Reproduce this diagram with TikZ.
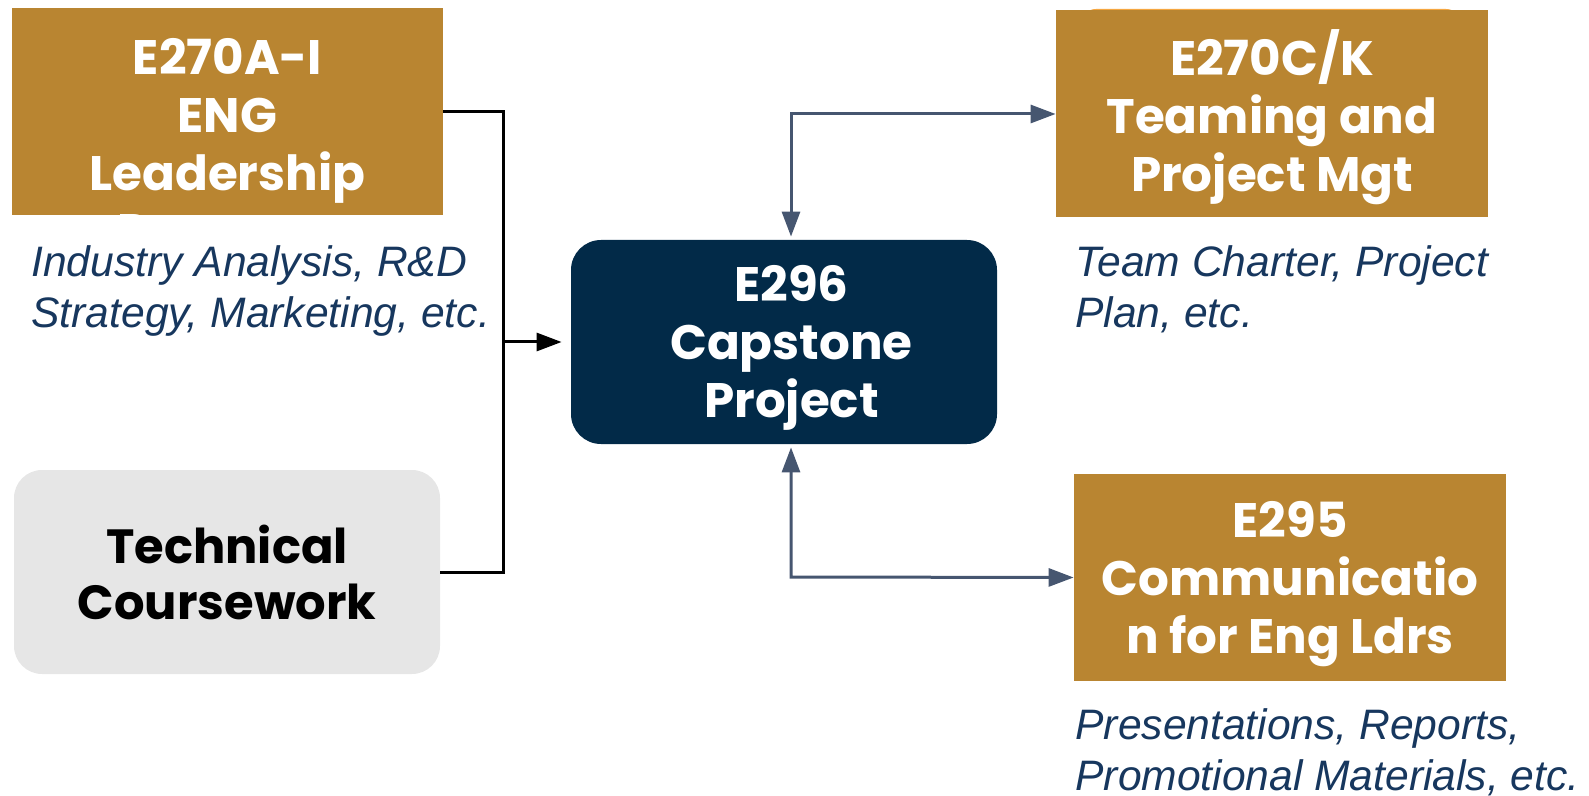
\documentclass[tikz,border=0pt]{standalone}
\usepackage{fontspec}
\setmainfont{Liberation Sans}
\newfontfamily\boxfont{Poppins}
\usetikzlibrary{arrows.meta}
\definecolor{gold}{HTML}{B98531}
\definecolor{navy}{HTML}{022A48}
\definecolor{lgray}{HTML}{E6E6E6}
\definecolor{slate}{HTML}{465670}
\definecolor{itblue}{HTML}{17375E}
\definecolor{orng}{HTML}{F5A742}
\tikzset{mytip/.tip={Triangle[length=12.5pt,width=9pt]}}
\begin{document}
\begin{tikzpicture}[x=0.5pt,y=-0.5pt,
  box/.style={inner sep=0pt},
  boxtext/.style={inner sep=0pt, align=center, text=white,
    font=\boxfont\bfseries\fontsize{24.2pt}{29pt}\selectfont},
  goldbox/.style={box, fill=gold, minimum width=216pt, minimum height=103.5pt},
  navybox/.style={box, fill=navy, rounded corners=15pt, minimum width=213pt, minimum height=102pt},
  graybox/.style={box, fill=lgray, rounded corners=14pt, minimum width=213pt, minimum height=102pt},
  note/.style={inner sep=0pt, anchor=north west, align=left, text=itblue,
    font=\itshape\fontsize{21.3pt}{25.5pt}\selectfont},
  blk/.style={line width=1.5pt, draw=black},
  sl/.style={line width=1.5pt, draw=slate}
]
\useasboundingbox (0,0) rectangle (1589,796);
% orange shape behind the top right box
\fill[orng, rounded corners=8pt] (1080,9) rectangle (1462,60);
% boxes
\node[goldbox, minimum width=215.5pt] (lead) at (227.5,111.5) {};
\begin{scope}
  \clip (12,8) rectangle (443,222);
  \node[boxtext] (leadtxt) at (227.5,150) {E270A-I\\ENG\\Leadership\\Program};
\end{scope}
\node[goldbox] (teampm) at (1272,114) {};
\node[boxtext] (teamtxt) at (1272,117) {E270C/K\\Teaming and\\Project Mgt};
\node[goldbox] (comm) at (1290,577.5) {};
\node[boxtext] (commtxt) at (1290,584) {E295\\Communicatio\\n for Eng Ldrs};
\node[navybox] (cap) at (784,342) {};
\node[boxtext] (captxt) at (791.5,348) {E296\\Capstone\\Project};
\node[graybox] (tech) at (227,572) {};
\node[boxtext, text=black, font=\boxfont\bfseries\fontsize{24pt}{28pt}\selectfont] (techtxt) at (227,572) {Technical\\Coursework};
% notes
\node[note] (leadnote) at (31,245) {Industry Analysis, R\&D\\Strategy, Marketing, etc.};
\node[note] (teamnote) at (1075,245) {Team Charter, Project\\Plan, etc.};
\node[note] (commnote) at (1075,708) {Presentations, Reports,\\Promotional Materials, etc.};
% connectors
\coordinate (jx) at (503,342);
\coordinate (tc) at (791,114);
\coordinate (bc) at (791,577);
\draw[blk] (lead.east) -| (jx) |- (tech.east);
\draw[blk, -{mytip}, shorten >=4.5pt] (jx) -- (cap.west);
\draw[sl, {mytip}-{mytip}, shorten <=1.5pt] (tc |- cap.north) -- (tc) -- (teampm.west);
\draw[sl, {mytip}-{mytip}, shorten <=1.5pt] (bc |- cap.south) -- (bc) -- (comm.west);
\end{tikzpicture}
\end{document}
